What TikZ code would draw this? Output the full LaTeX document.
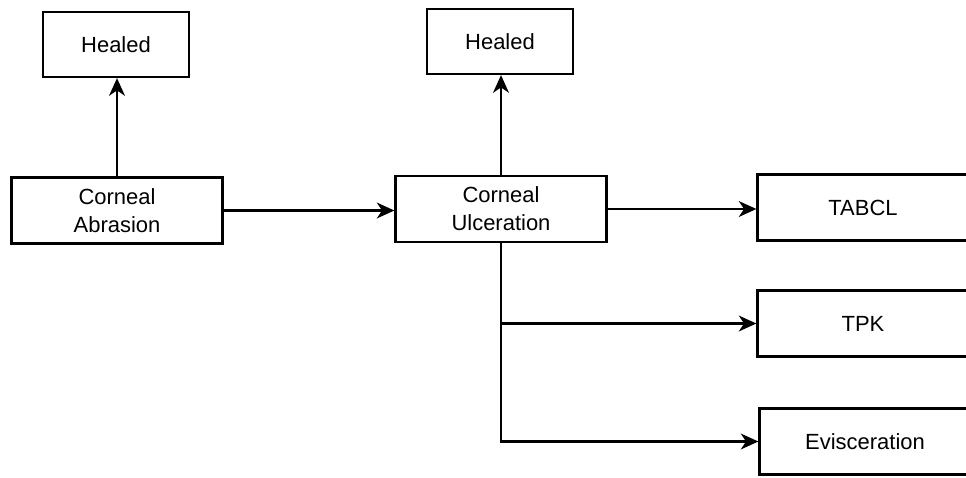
\documentclass[tikz,border=0pt]{standalone}
\usepackage{fontspec}
\setmainfont{Liberation Sans}
\usetikzlibrary{arrows.meta}

\begin{document}
\begin{tikzpicture}[x=0.02cm, y=-0.02cm,
    box/.style={draw, line width=1.3pt, align=center, inner sep=0pt,
      font=\fontsize{12.5}{15.8}\selectfont},
    smallbox/.style={box, minimum width=2.92cm, minimum height=1.30cm},
    widebox/.style={box, minimum width=4.22cm, minimum height=1.32cm},
    flow/.style={line width=1.3pt, -{Stealth[length=10pt, width=9pt, inset=3pt]}}]
  %%%%% START %%%%%
  \useasboundingbox (0, 0) rectangle (966, 477);

  \node[smallbox] (healedA) at (116, 44.5) {Healed};
  \node[widebox] (abrasion) at (117, 210.5) {Corneal\\Abrasion};

  \node[smallbox] (healedB) at (500, 41.5) {Healed};
  \node[widebox] (ulceration) at (501, 209) {Corneal\\Ulceration};

  \node[widebox] (tabcl) at (863, 207.5) {TABCL};
  \node[widebox] (tpk) at (863, 323.5) {TPK};
  \node[widebox] (evisc) at (865, 441.5) {Evisceration};

  \draw[flow] (abrasion.north) -- (abrasion.north |- healedA.south);
  \draw[flow] (abrasion.east) -- (abrasion.east -| ulceration.west);
  \draw[flow] (ulceration.north) -- (ulceration.north |- healedB.south);
  \draw[flow] (ulceration.east) -- (ulceration.east -| tabcl.west);

  \draw[flow] (ulceration.south) -- (ulceration.south |- tpk.west) -- (tpk.west);
  \draw[flow] (ulceration.south) -- (ulceration.south |- evisc.west) -- (evisc.west);
  %%%%% END %%%%%
\end{tikzpicture}
\end{document}
